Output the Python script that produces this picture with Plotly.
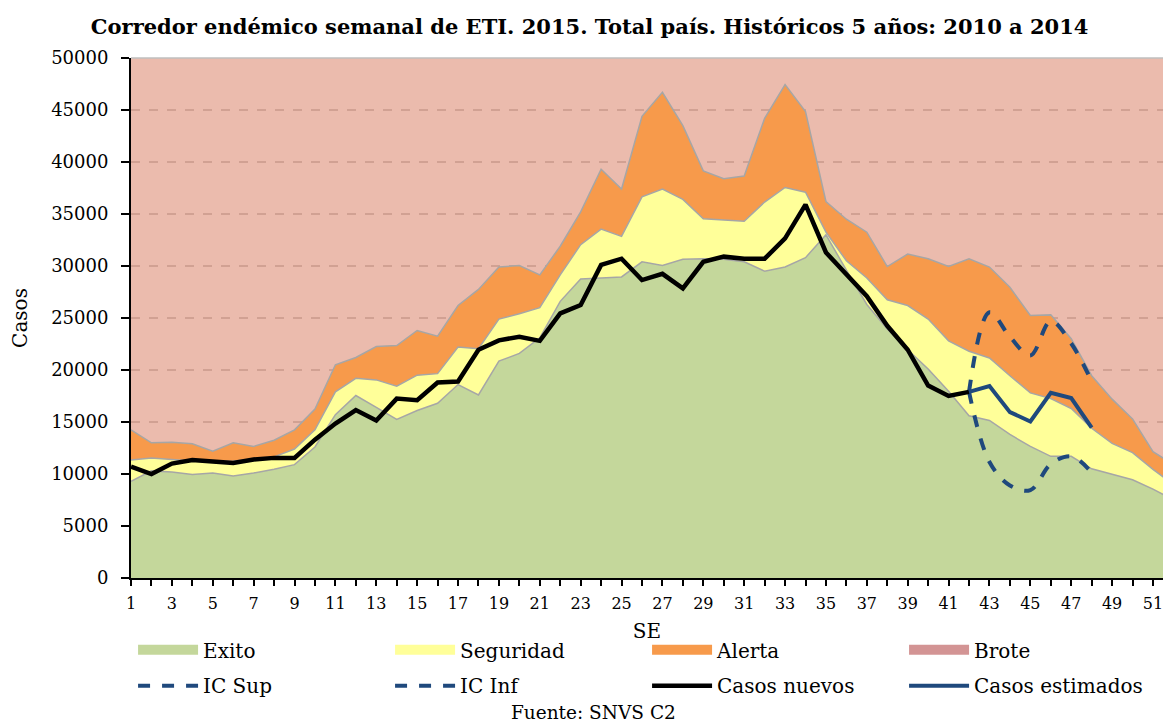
import plotly.graph_objects as go

weeks = list(range(1, 53))

exito = [9300, 10300, 10200, 9950, 10100, 9800, 10100, 10450, 10900, 12600,
         15700, 17550, 16400, 15250, 16100, 16800, 18600, 17600, 20850, 21600,
         23100, 26600, 28750, 28850, 28950, 30400, 30050, 30650, 30700, 30650,
         30400, 29500, 29900, 30800, 33000, 29600, 26300, 23950, 21950, 20100,
         17950, 15600, 15150, 13800, 12650, 11700, 11700, 10500, 9950, 9450,
         8550, 7500]

seguridad = [11350, 11550, 11400, 11250, 11200, 11250, 11400, 11650, 12400, 14250,
             17900, 19200, 19050, 18450, 19500, 19650, 22200, 22050, 24900, 25400,
             26000, 29150, 32050, 33550, 32850, 36650, 37400, 36400, 34550, 34450,
             34300, 36150, 37550, 37100, 33250, 30500, 28850, 26750, 26200, 24900,
             22800, 21800, 21150, 19450, 17800, 17250, 16300, 14400, 12950, 12050,
             10450, 9000]

alerta = [14250, 13000, 13050, 12900, 12200, 13000, 12650, 13250, 14250, 16250,
          20500, 21200, 22250, 22350, 23800, 23250, 26200, 27750, 29900, 30050,
          29150, 31900, 35200, 39300, 37400, 44400, 46700, 43500, 39150, 38400,
          38650, 44200, 47450, 44850, 36200, 34500, 33250, 29950, 31150, 30700,
          29950, 30700, 29900, 27950, 25250, 25300, 23000, 19450, 17200, 15300,
          12150, 10900]

brote_top = [50000] * 52

casos_weeks = list(range(1, 43))
casos_nuevos = [10700, 10000, 11000, 11350, 11200, 11050, 11400, 11550, 11550, 13300,
                14850, 16150, 15150, 17250, 17100, 18800, 18900, 21950, 22850, 23200,
                22800, 25450, 26250, 30100, 30700, 28650, 29250, 27850, 30400, 30900,
                30700, 30700, 32650, 35900, 31300, 29250, 27100, 24250, 21950, 18500,
                17500, 17900]

est_weeks = [42, 43, 44, 45, 46, 47, 48]
casos_estimados = [17900, 18450, 15950, 15050, 17800, 17300, 14450]
ic_sup = [17900, 25550, 23200, 21400, 24700, 22550, 18900]
ic_inf = [17900, 11150, 8900, 8450, 10950, 11700, 10150]

x_ticktext = [str(w) if w % 2 == 1 else "" for w in weeks]

FONT = "DejaVu Serif"
GREEN = "#C4D79B"
YELLOW = "#FFFF99"
ORANGE = "#F79A4B"
BROTE_FILL = "rgba(222,141,118,0.6)"
BROTE_LEG = "#D39494"
EDGE = "#A6A6A6"
BLUE = "#1F497D"

fig = go.Figure()

fig.add_trace(go.Scatter(x=weeks, y=exito, mode="lines", fill="tozeroy",
                         fillcolor=GREEN, line=dict(color=EDGE, width=1.5),
                         name="Exito", showlegend=False, hoverinfo="skip"))
fig.add_trace(go.Scatter(x=weeks, y=seguridad, mode="lines", fill="tonexty",
                         fillcolor=YELLOW, line=dict(color=EDGE, width=1.5),
                         name="Seguridad", showlegend=False, hoverinfo="skip"))
fig.add_trace(go.Scatter(x=weeks, y=alerta, mode="lines", fill="tonexty",
                         fillcolor=ORANGE, line=dict(color=EDGE, width=1.5),
                         name="Alerta", showlegend=False, hoverinfo="skip"))
fig.add_trace(go.Scatter(x=weeks, y=brote_top, mode="lines", fill="tonexty",
                         fillcolor=BROTE_FILL, line=dict(color="rgba(0,0,0,0)", width=0),
                         name="Brote", showlegend=False, hoverinfo="skip"))

# legend row 1 (area swatches)
for nm, col in [("Exito", GREEN), ("Seguridad", YELLOW), ("Alerta", ORANGE), ("Brote", BROTE_LEG)]:
    fig.add_trace(go.Scatter(x=[None], y=[None], mode="lines", name=nm,
                             line=dict(color=col, width=10), legend="legend"))

fig.add_trace(go.Scatter(x=est_weeks, y=ic_sup, mode="lines", name="IC Sup",
                         line=dict(color=BLUE, width=4, dash="dash", shape="spline"),
                         legend="legend2"))
fig.add_trace(go.Scatter(x=est_weeks, y=ic_inf, mode="lines", name="IC Inf",
                         line=dict(color=BLUE, width=4, dash="dash", shape="spline"),
                         legend="legend2"))
fig.add_trace(go.Scatter(x=casos_weeks, y=casos_nuevos, mode="lines", name="Casos nuevos",
                         line=dict(color="black", width=4.5), legend="legend2"))
fig.add_trace(go.Scatter(x=est_weeks, y=casos_estimados, mode="lines", name="Casos estimados",
                         line=dict(color=BLUE, width=4), legend="legend2"))

leg_common = dict(orientation="h", xanchor="left", x=0.002, yanchor="middle",
                  entrywidth=182, entrywidthmode="pixels", itemwidth=60,
                  font=dict(family=FONT, size=20, color="black"),
                  bgcolor="rgba(0,0,0,0)", borderwidth=0, traceorder="normal")

fig.update_layout(
    width=1163, height=724,
    margin=dict(l=131, r=0, t=58, b=146, autoexpand=False),
    paper_bgcolor="white", plot_bgcolor="white",
    title=dict(text="<b>Corredor endémico semanal de ETI. 2015. Total país. Históricos 5 años: 2010 a 2014</b>",
               x=0.507, xanchor="center", y=0.963, yanchor="middle",
               font=dict(family=FONT, size=21, color="black")),
    font=dict(family=FONT, color="black"),
    legend=dict(y=-0.138, **leg_common),
    legend2=dict(y=-0.207, **leg_common),
    xaxis=dict(range=[1, 51.49], tickmode="array", tickvals=weeks, ticktext=x_ticktext,
               ticks="outside", ticklen=6, tickwidth=1.5, tickcolor="black",
               showline=True, linecolor="black", linewidth=2, showgrid=False, zeroline=False,
               tickfont=dict(family=FONT, size=16), tickangle=0, automargin=False,
               ticklabelstandoff=4, ticklabeloverflow="allow",
               title=dict(text="SE", font=dict(family=FONT, size=20), standoff=12)),
    yaxis=dict(range=[0, 50000], dtick=5000, tickformat="d",
               ticks="outside", ticklen=8, tickwidth=1.5, tickcolor="black",
               showline=True, linecolor="black", linewidth=2,
               showgrid=True, gridcolor="#BDBDBD", griddash="dash", gridwidth=1.5,
               zeroline=False, tickfont=dict(family=FONT, size=18), ticklabelstandoff=9,
               automargin=False,
               title=dict(text="Casos", font=dict(family=FONT, size=20), standoff=18)),
    annotations=[dict(text="Fuente: SNVS C2", xref="paper", yref="paper",
                      x=0.448, y=-0.258, xanchor="center", yanchor="middle",
                      showarrow=False, font=dict(family=FONT, size=18.5, color="black"))],
    shapes=[dict(type="line", xref="paper", yref="paper", x0=0, x1=1, y0=1, y1=1,
                 line=dict(color="#BFBFBF", width=1.5))],
)

fig.write_html("out.html", config={"displayModeBar": False},
               post_script="document.body.style.margin='0';")
